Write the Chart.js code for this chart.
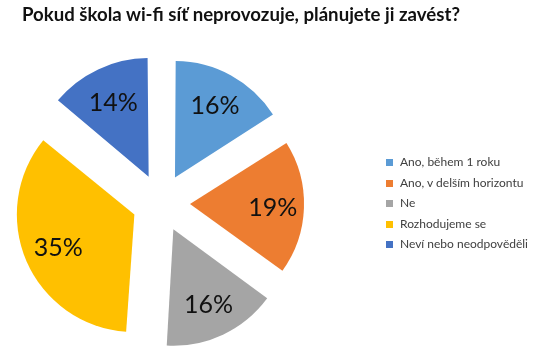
<!DOCTYPE html>
<html>
<head>
<meta charset="utf-8">
<script src="https://cdn.jsdelivr.net/npm/chart.js@4.4.1/dist/chart.umd.min.js"></script>
<style>
  html, body { margin: 0; padding: 0; background: #fff; }
  #wrap { position: relative; width: 536px; height: 352px; overflow: hidden; }
  #c { position: absolute; left: 0; top: 0; }
  #title { position: absolute; left: 22px; top: 4px; white-space: nowrap;
           font-family: Lato, "Open Sans", sans-serif; font-weight: bold; font-size: 18px;
           color: #111; transform-origin: 0 0; line-height: 20px; }
  .leg { position: absolute; left: 386px; white-space: nowrap; height: 16px;
         font-family: Lato, "Open Sans", sans-serif; font-size: 12px; color: #404040; line-height: 16px; }
  .leg i { display: inline-block; width: 7px; height: 7px; margin-right: 7px; vertical-align: 0px; }
</style>
</head>
<body>
<div id="wrap">
  <canvas id="c" width="536" height="352"></canvas>
  <div id="title"><span id="tt">Pokud škola wi-fi síť neprovozuje, plánujete ji zavést?</span></div>
  <div id="legend"></div>
</div>
<script>
const titleText = "Pokud škola wi-fi síť neprovozuje, plánujete ji zavést?";
const categories = ["Ano, během 1 roku", "Ano, v delším horizontu", "Ne", "Rozhodujeme se", "Neví nebo neodpověděli"];
const values = [16, 19, 16, 35, 14];
const colors = ["#5B9BD5", "#ED7D31", "#A5A5A5", "#FFC000", "#4472C4"];

// fit title width
const tt = document.getElementById('title');
const w = tt.getBoundingClientRect().width;
tt.style.transform = 'scaleX(' + (438 / w) + ')';

// legend
const leg = document.getElementById('legend');
categories.forEach((c, i) => {
  const d = document.createElement('div');
  d.className = 'leg';
  d.style.top = (154 + i * 20.6) + 'px';
  const b = document.createElement('i');
  b.style.background = colors[i];
  d.appendChild(b);
  d.appendChild(document.createTextNode(c));
  leg.appendChild(d);
});

const labelPlugin = {
  id: 'pctLabels',
  afterDatasetsDraw(chart) {
    const ctx = chart.ctx;
    const meta = chart.getDatasetMeta(0);
    ctx.save();
    ctx.font = '25px Lato, "Open Sans", sans-serif';
    ctx.fillStyle = '#111';
    ctx.textAlign = 'center';
    ctx.textBaseline = 'middle';
    meta.data.forEach((arc, i) => {
      const p = arc.getProps(['x', 'y', 'startAngle', 'endAngle', 'outerRadius']);
      const off = (arc.options.offset || 0) / 4;
      const mid = (p.startAngle + p.endAngle) / 2;
      const r = off + 0.74 * p.outerRadius;
      ctx.fillText(values[i] + '%', p.x + Math.cos(mid) * r, p.y + Math.sin(mid) * r + 1);
    });
    ctx.restore();
  }
};

new Chart(document.getElementById('c'), {
  type: 'pie',
  data: {
    labels: categories,
    datasets: [{
      data: values,
      backgroundColor: colors,
      borderWidth: 0,
      offset: 116
    }]
  },
  options: {
    responsive: false,
    animation: false,
    devicePixelRatio: 1,
    radius: 112,
    layout: { padding: { left: 0, top: 54, right: 214, bottom: 0 } },
    plugins: {
      legend: { display: false },
      title: { display: false },
      tooltip: { enabled: false }
    }
  },
  plugins: [labelPlugin]
});
</script>
</body>
</html>
